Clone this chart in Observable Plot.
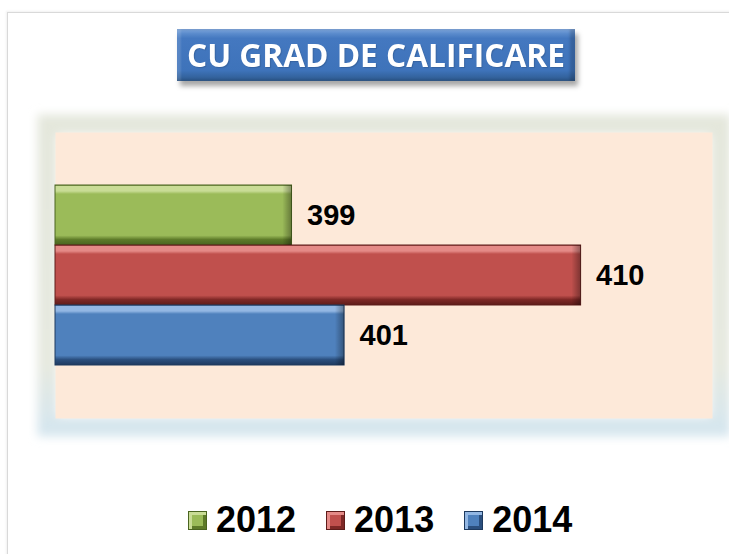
<!DOCTYPE html>
<html>
<head>
<meta charset="utf-8">
<script src="https://cdn.jsdelivr.net/npm/d3@7"></script>
<script src="https://cdn.jsdelivr.net/npm/@observablehq/plot@0.6"></script>
<style>
  html, body { margin: 0; padding: 0; background: #fff; }
  body { width: 729px; height: 554px; overflow: hidden; position: relative; }
  #frameLine { position: absolute; left: 7px; top: 12px; width: 760px; height: 600px;
    border-left: 1px solid #d9d9d9; border-top: 1px solid #d9d9d9;
    box-shadow: -1px -1px 2px rgba(0,0,0,0.06); }
  #title { position: absolute; left: 177px; top: 29px; width: 398px; height: 52px;
    background: linear-gradient(#7ea6dc 0%, #5a8bcc 9%, #4478c0 18%, #3e73ba 80%, #34649f 92%, #2b5486 100%);
    box-shadow: 3px 5px 5px rgba(0,0,0,0.35), inset -5px 0 3px rgba(0,0,0,0.18), inset 4px 0 2px rgba(255,255,255,0.12);
    display: flex; align-items: center; justify-content: center; overflow: hidden; }
  #title span { display: inline-block; color: #fff; font-family: "Open Sans", sans-serif; font-weight: 700;
    font-size: 32px; line-height: 1; white-space: nowrap; transform-origin: center center;
    text-shadow: 1px 1px 1px rgba(0,0,0,0.15); }
  #chart { position: absolute; left: 0; top: 100px; }
  #legend { position: absolute; left: 188px; top: 502px; display: flex; align-items: center; height: 36px;
    font-family: "Liberation Sans", Arial, sans-serif; font-weight: 700; font-size: 36px; line-height: 36px; color: #000; }
  .item { display: flex; align-items: center; margin-right: 30px; }
  .item:last-child { margin-right: 0; }
  .sw { width: 19px; height: 19px; box-sizing: border-box; margin-right: 9px; }
</style>
</head>
<body>
<div id="frameLine"></div>
<div id="title"><span id="titleText">CU GRAD DE CALIFICARE</span></div>
<div id="chart"></div>
<div id="legend"></div>
<script>
// ---- data ----
const titleText = "CU GRAD DE CALIFICARE";
const years = ["2012", "2013", "2014"];
const values = [399, 410, 401];
const xDomain = [390, 415];

// ---- styles ----
const palette = {
  "2012": {base: "#9bbb59", light: "#c9dc96", dark: "#5d7a29", stroke: "#4a6420"},
  "2013": {base: "#c0504d", light: "#e48a87", dark: "#7e2826", stroke: "#5e1c1a"},
  "2014": {base: "#4f81bd", light: "#93b7e3", dark: "#2b4f7e", stroke: "#1e3a5f"}
};

const data = years.map((y, i) => ({year: y, value: values[i]}));

// title fit
const tspan = document.getElementById("titleText");
tspan.textContent = titleText;
const tw = tspan.getBoundingClientRect().width;
tspan.style.transform = `scaleX(${378 / tw})`;

const chart = Plot.plot({
  width: 729,
  height: 360,
  marginTop: 32,
  marginBottom: 42,
  marginLeft: 55,
  marginRight: 17,
  style: {background: "transparent", overflow: "visible"},
  x: {domain: xDomain, axis: null},
  y: {domain: years, axis: null, padding: 0, insetTop: 53, insetBottom: 53},
  color: {type: "identity"},
  marks: [
    Plot.frame({stroke: "url(#glowGrad)", strokeWidth: 20, inset: -8}),
    Plot.frame({fill: "#fde9d9"}),
    Plot.barX(data, {
      y: "year", x1: () => xDomain[0], x2: "value",
      fill: d => `url(#bar-${d.year})`,
      stroke: d => palette[d.year].stroke, strokeWidth: 1
    }),
    Plot.barX(data, {
      y: "year", x1: d => d.value - 0.35, x2: "value",
      fill: () => "url(#edgeShade)"
    }),
    Plot.text(data, {
      x: "value", y: "year", text: d => String(d.value),
      textAnchor: "start", dx: 15,
      fontSize: 29, fontWeight: "bold",
      fontFamily: "'Liberation Sans', Arial, sans-serif", fill: "#000"
    })
  ]
});

// defs for gradients / glow
const svg = d3.select(chart);
const defs = svg.insert("defs", ":first-child");
const glow = defs.append("linearGradient").attr("id", "glowGrad")
  .attr("x1", 0).attr("y1", 0).attr("x2", 0).attr("y2", 1);
[["0%", "#e4e7dc"], ["80%", "#e6e9e0"], ["100%", "#d6e6ee"]].forEach(([o, c]) =>
  glow.append("stop").attr("offset", o).attr("stop-color", c));
defs.append("filter").attr("id", "blurGlow")
  .attr("x", "-20%").attr("y", "-20%").attr("width", "140%").attr("height", "140%")
  .append("feGaussianBlur").attr("stdDeviation", 5);
for (const y of years) {
  const p = palette[y];
  const g = defs.append("linearGradient").attr("id", `bar-${y}`)
    .attr("x1", 0).attr("y1", 0).attr("x2", 0).attr("y2", 1);
  [["0%", p.dark], ["2%", p.light], ["10%", p.light], ["15%", p.base],
   ["84%", p.base], ["91%", p.dark], ["100%", p.stroke]].forEach(([o, c]) =>
    g.append("stop").attr("offset", o).attr("stop-color", c));
}
const edge = defs.append("linearGradient").attr("id", "edgeShade")
  .attr("x1", 0).attr("y1", 0).attr("x2", 1).attr("y2", 0);
edge.append("stop").attr("offset", "0%").attr("stop-color", "#000").attr("stop-opacity", 0);
edge.append("stop").attr("offset", "100%").attr("stop-color", "#000").attr("stop-opacity", 0.35);

const frames = svg.selectAll('[aria-label="frame"]').nodes();
if (frames.length) d3.select(frames[0]).attr("filter", "url(#blurGlow)");

document.getElementById("chart").appendChild(chart);

// legend
const legend = d3.select("#legend");
for (const y of years) {
  const p = palette[y];
  const item = legend.append("div").attr("class", "item");
  item.append("div").attr("class", "sw")
    .style("background", p.base)
    .style("border", `1px solid ${p.stroke}`)
    .style("box-shadow", `inset 3px 3px 0 ${p.light}, inset -3px -3px 0 ${p.dark}`);
  item.append("span").text(y);
}
</script>
</body>
</html>
